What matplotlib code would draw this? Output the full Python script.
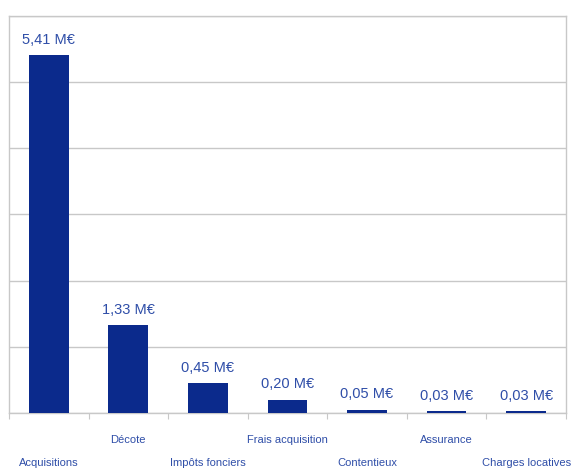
import matplotlib
matplotlib.use("Agg")
import matplotlib.pyplot as plt
from matplotlib import font_manager
import numpy as np

categories = ["Acquisitions", "Décote", "Impôts fonciers", "Frais acquisition",
              "Contentieux", "Assurance", "Charges locatives"]
values = [5.41, 1.33, 0.45, 0.20, 0.05, 0.03, 0.03]
value_labels = ["5,41 M€", "1,33 M€", "0,45 M€", "0,20 M€", "0,05 M€", "0,03 M€", "0,03 M€"]

names = {f.name for f in font_manager.fontManager.ttflist}
fam = ["Liberation Sans Narrow", "DejaVu Sans"] if "Liberation Sans Narrow" in names else ["Liberation Sans", "DejaVu Sans"]
plt.rcParams['font.family'] = fam

bar_color = "#0b2a8c"
text_color = "#2f4ea8"

fig = plt.figure(figsize=(5.71, 4.70), dpi=100)
ax = fig.add_axes([0.0158, 0.1213, 0.9752, 0.8447])
x = np.arange(len(categories))
ax.bar(x, values, width=0.5, color=bar_color, zorder=3)
ax.set_xlim(-0.5, len(categories) - 0.5)
ax.set_ylim(0, 6)
ax.set_yticks(np.arange(0, 7, 1))
ax.yaxis.grid(True, color="#c8c8c8", linewidth=1.0, zorder=0)
ax.tick_params(axis='y', left=False, labelleft=False)
ax.set_xticks(np.arange(-0.5, len(categories), 1))
ax.tick_params(axis='x', direction='out', length=4, color="#c8c8c8", labelbottom=False)
for s in ax.spines.values():
    s.set_color("#c8c8c8")
    s.set_linewidth(1.0)

for xi, v, lab in zip(x, values, value_labels):
    ax.annotate(lab, (xi, v), xytext=(0, 6), textcoords="offset points",
                ha="center", va="bottom", color=text_color, fontsize=10.5)

trans = ax.get_xaxis_transform()
for i, c in enumerate(categories):
    y = -0.068 if i % 2 == 1 else -0.126
    ax.text(i, y, c, transform=trans, ha="center", va="center",
            color=text_color, fontsize=8)

fig.savefig("out.png", dpi=100)
